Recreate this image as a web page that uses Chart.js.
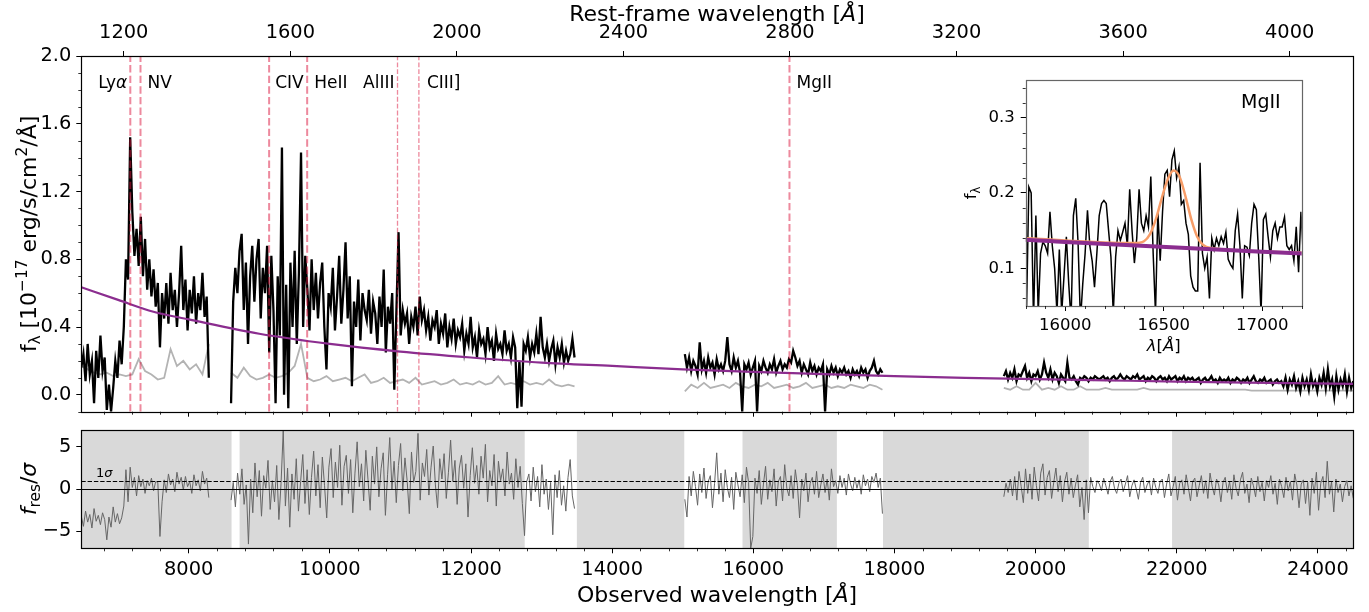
<!DOCTYPE html>
<html lang="en">
<head>
<meta charset="UTF-8">
<title>Spectrum fit</title>
<script src="https://cdn.jsdelivr.net/npm/chart.js"></script>
<style>
  body { margin: 0; background: #fff; }
  #wrap { position: relative; width: 1369px; height: 612px; }
  canvas { position: absolute; }
</style>
</head>
<body>
<div id="wrap">
  <canvas id="mainChart" width="1369" height="432" style="left:0;top:0"></canvas>
  <canvas id="residChart" width="1369" height="207" style="left:0;top:405px"></canvas>
  <canvas id="insetChart" width="370" height="310" style="left:940px;top:55px"></canvas>
</div>
<script>
// ---- data (observed wavelength in Angstrom, flux in 1e-17 erg/s/cm2/A) ----
const onePlusZ = 5.9;
const obsTicks = [8000, 10000, 12000, 14000, 16000, 18000, 20000, 22000, 24000];
const restTicks = [1200, 1600, 2000, 2400, 2800, 3200, 3600, 4000];

const lineNames = ['Lyα', 'NV', 'CIV', 'HeII', 'AlIII', 'CIII]', 'MgII'];
const lineRest = [1215.67, 1240.14, 1549.06, 1640.42, 1857.40, 1908.73, 2798.75];

// wavelength coverage of the four spectral chunks
const segRanges = [[6478, 8285], [8600, 13467], [15030, 17830], [19550, 24502]];

const seg1Flux = [.16,.24,.08,.3,.12,.2,-.05,.26,.1,.35,.14,.22,-.09,.06,-.1,.04,.2,.1,.32,.18,.4,.8,.68,1.52,1.08,.82,.98,.76,1.05,.7,
  .92,.62,.8,.58,.74,.52,.66,.28,.6,.45,.66,.42,.72,.5,.62,.4,.6,.88,.5,.68,.38,.62,.48,.7,.42,.6,.5,.72,.46,.58,.1];
const seg2Flux = [-.05,.55,.75,.6,.85,.95,.5,.78,.3,.7,.88,.55,.8,.92,.45,.75,.6,.88,.25,.82,.5,-.05,.7,.35,1.46,0,.65,-.08,.78,.4,
  .85,.3,.72,1.43,.4,.82,.62,.38,.8,.5,.72,.45,.66,.78,.4,.15,.6,.52,.75,.38,.58,.82,.42,.62,.9,.45,.7,.05,.55,.4,
  .68,.32,.6,.5,.44,.62,.36,.55,.48,.3,.58,.4,.74,.25,.52,.42,.6,.03,.5,.96,.35,.5,.42,.48,.3,.46,.4,.52,.35,.58,
  .44,.5,.38,.46,.32,.44,.4,.5,.3,.42,.36,.48,.28,.4,.33,.45,.3,.38,.34,.42,.26,.36,.3,.46,.28,.34,.22,.38,.3,.33,
  .24,.4,.28,.32,.2,.36,.27,.3,.24,.38,.26,.3,.22,.34,.28,-.08,.2,-.07,.3,.26,.34,.22,.3,.25,.36,.24,.46,.28,.22,.3,
  .2,.27,.32,.18,.28,.22,.3,.19,.26,.2,.24,.33,.22];
const seg3Flux = [.24,.16,.22,.14,.2,.17,.12,.31,.15,.2,.13,.22,.16,.19,.12,.21,.15,.18,.14,.2,.34,.18,.14,.22,.16,.2,.13,-.1,.18,.15,
  .19,.12,.16,.2,-.1,.17,.14,.2,.16,.13,.18,.15,.21,.13,.17,.2,.15,.18,.16,.21,.19,.26,.22,.17,.2,.13,.18,.15,.12,.19,
  .14,.17,.12,.16,.14,.18,-.1,.15,.12,.17,.13,.16,.11,.15,.13,.16,.12,.14,.1,.15,.12,.14,.11,.16,.13,.15,.1,.14,.16,.2,
  .14,.12,.15,.13];
const seg4Flux = [.11,.14,.09,.13,.1,.15,.08,.12,.11,.14,.17,.1,.13,.08,.12,.11,.14,.09,.12,.19,.13,.1,.15,.09,.13,.11,.07,.12,.1,.08,
  .19,.1,.09,.11,.08,.06,.1,.09,.11,.1,.08,.1,.09,.11,.1,.09,.1,.11,.09,.1,.08,.1,.11,.09,.1,.12,.1,.09,.11,.1,
  .09,.11,.1,.12,.09,.1,.11,.08,.1,.09,.11,.1,.08,.1,.11,.09,.1,.08,.11,.09,.1,.11,.08,.1,.09,.11,.08,.1,.09,.1,
  .08,.09,.1,.07,.09,.1,.08,.09,.11,.08,.09,.07,.1,.08,.09,.08,.1,.07,.09,.08,.1,.09,.07,.09,.08,.1,.07,.09,.11,.08,
  .07,.09,.08,.1,.07,.08,.09,.06,.08,.09,.07,.08,.05,.1,.03,.09,.06,.11,.04,.08,.02,.1,.05,.09,.03,.12,.05,.08,.02,.1,
  .06,.13,.04,.15,.05,.09,-.01,.11,.03,.09,.05,.12,.02,.1,.04,.08];

const seg1Err = [.17,.15,.13,.12,.13,.11,.12,.11,.12,.21,.14,.12,.09,.1,.27,.17,.2,.15,.18,.12,.3];
const seg2Err = [.13,.1,.16,.11,.09,.1,.12,.1,.11,.13,.17,.3,.1,.08,.09,.11,.08,.09,.1,.08,.1,.12,.07,.08,.1,.07,.08,.09,.07,.1,
  .06,.07,.08,.06,.07,.09,.06,.07,.06,.08,.06,.07,.11,.06,.07,.06,.08,.06,.07,.06,.09,.06,.05,.06,.05];
const seg3Err = [.02,.06,.04,.07,.04,.05,.06,.04,.07,.05,.04,.06,.05,.07,.04,.05,.06,.04,.05,.07,.04,.05,.06,.04,.05,.04,.06,.05,.04,.06,.05,.03];
const seg4Err = [.04,.03,.05,.03,.03,.07,.03,.04,.03,.05,.03,.03,.05,.03,.03,.03,.04,.03,.03,.03,.03,.03,.04,.03,.03,.03,.03,.03,.03,.03,
  .03,.03,.03,.03,.03,.03,.03,.03,.03,.025,.025,.025,.025,.025,.025,.025,.025,.025,.025,.025,.025,.025,.025,.025,.025,.025];

const contWave = [6478, 7000, 7500, 8000, 9000, 10000, 11000, 12000, 13000, 14000, 15000, 16000, 17000, 18000, 19000, 20000, 21000, 22000, 23000, 24502];
const contFlux = [0.635, 0.56, 0.49, 0.445, 0.36, 0.30, 0.255, 0.22, 0.19, 0.17, 0.15, 0.135, 0.122, 0.11, 0.10, 0.092, 0.085, 0.078, 0.072, 0.064];

// residuals (f_res / sigma)
const seg1Res = [-3.2,-4.4,-2.6,-3.9,-3.0,-4.6,-2.3,-3.8,-3.1,-4.2,-2.8,-3.6,-6.0,-3.3,-4.5,-2.1,-3.9,-2.9,-4.1,-3.4,-2.0,
  2.3,-1.5,2.6,0.2,1.4,-0.8,1.6,0.3,1.2,-0.5,1.0,0.4,1.3,-0.2,0.9,0.8,-5.6,-1.5,1.1,-0.4,1.8,0.5,1.2,-0.3,2.0,0.6,1.4,-0.1,1.5,
  0.3,0.9,-0.5,1.7,0.4,1.1,-0.2,2.1,0.6,1.3,-1.0];
const seg2Res = [-1.3,0.8,-2.1,1.9,-0.6,2.4,-1.8,0.5,-6.5,1.2,-2.8,3.1,-0.9,2.2,-3.2,1.6,0.1,3.4,-2.4,1.0,-1.5,2.8,-3.6,0.7,6.9,
  -2.0,2.5,-4.5,1.8,-1.2,3.6,-2.6,0.9,4.1,-1.7,2.3,-3.0,1.4,4.5,-0.8,2.9,-2.2,3.8,0.4,-3.4,2.6,4.8,-1.0,3.2,0.2,5.2,-1.9,2.7,4.0,
  -0.5,3.5,-2.8,1.9,5.6,0.3,3.0,-1.4,4.6,1.1,-2.5,3.9,0.6,5.0,-0.9,2.4,4.3,-3.1,1.7,6.1,0.0,3.3,-1.6,2.8,5.4,-0.2,3.7,1.0,-2.9,
  4.4,0.8,2.1,6.6,-1.3,3.1,1.5,4.7,-0.7,2.6,5.1,0.5,-2.2,3.6,1.2,4.2,-1.1,2.0,5.8,0.9,3.4,-1.8,2.5,4.0,0.1,3.0,-3.3,1.6,4.9,0.7,
  2.8,-0.6,3.9,1.3,5.3,-1.5,2.2,0.4,4.1,-2.0,3.3,1.0,2.4,-0.8,4.4,0.6,1.9,-1.2,3.6,0.2,2.7,-1.7,-5.5,0.9,1.8,-1.4,2.6,-0.3,1.5,
  -2.1,2.9,-0.6,1.2,-2.4,0.8,-5.4,1.7,-1.0,2.2,-1.9,0.4,-2.6,1.4,3.5,-0.8,-2.3];
const seg3Res = [-1.2,-3.3,1.5,-0.8,2.1,0.3,-1.9,1.8,-0.4,2.5,-1.1,0.9,1.6,-2.2,0.7,4.3,-0.6,1.9,-1.5,2.3,0.2,-1.0,1.4,-2.4,2.0,
  0.5,-0.9,1.7,-1.6,2.6,0.8,-7.0,-5.6,1.3,-0.5,2.2,-1.8,0.6,2.7,-1.2,1.1,-0.3,2.4,-2.0,0.9,1.5,-1.4,2.9,0.1,-0.8,1.6,-1.1,2.3,
  0.4,-3.4,1.2,-0.2,1.9,-1.5,0.7,1.4,-0.6,2.1,-1.0,0.5,1.8,-0.4,1.2,-1.3,2.4,0.3,1.0,-0.5,1.6,0.2,1.3,-0.7,1.8,0.6,-0.2,1.4,0.1,
  1.1,-0.6,1.7,0.4,1.2,-0.3,1.5,0.8,1.9,0.2,1.3,-2.9];
const seg4Res = [-0.9,0.7,-0.4,1.2,-0.8,1.5,-1.3,2.1,0.3,-1.6,2.4,-0.5,1.8,-1.2,2.6,0.4,-1.4,1.9,3.0,-0.7,1.4,2.2,-1.1,0.8,2.5,
  -0.3,1.6,-1.5,0.9,2.0,-0.6,1.3,-1.0,0.5,1.7,-2.1,0.2,-3.6,1.1,-2.8,1.4,0.3,-0.4,1.0,0.6,-0.2,1.3,0.4,-0.6,0.9,1.5,0.1,-0.5,0.7,
  1.2,-0.3,0.6,1.6,-0.9,0.4,1.1,0.0,-1.2,0.8,1.4,-0.4,0.5,1.0,-0.7,1.3,0.2,-0.5,0.9,1.2,-1.0,0.6,1.8,-0.8,0.3,1.5,-1.3,0.7,1.1,
  -0.6,1.7,0.2,-1.4,0.9,1.3,-0.9,0.4,1.6,-0.5,1.0,-1.1,1.9,0.3,-0.7,1.2,0.5,-1.5,0.8,1.4,-0.4,0.9,-1.2,1.7,0.1,-0.8,1.1,2.0,-0.5,
  0.6,-1.6,1.3,0.4,-0.9,1.5,-0.3,0.8,-1.4,1.0,0.2,1.6,-0.6,0.7,-1.8,1.2,0.3,-1.0,1.4,-0.2,0.9,-1.3,1.8,0.5,-2.2,0.6,1.1,-1.7,0.8,
  -3.1,1.3,-0.5,2.0,-2.5,0.7,1.5,-1.0,3.3,-0.6,0.9,-2.7,1.2,-0.4,0.6,-1.5,0.3,1.0,-0.8,0.4,-1.1];

// wavelength windows shaded grey in the residual panel
const shadedSpans = [[6478, 8607], [8721, 12761], [13500, 15022], [15847, 17184], [17838, 20754], [21934, 24502]];

// inset: MgII region
const insetRange = [15804, 17208];
const insetFlux = [.04,.208,.2,.03,.17,.04,.12,.135,.13,.12,.175,.13,.1,.04,.125,.04,.09,.142,.08,.03,
  .17,.193,.133,.03,.08,.12,.177,.13,.11,.075,.12,.17,.186,.19,.186,.15,.115,.04,.115,.15,
  .137,.148,.16,.13,.205,.15,.107,.14,.205,.16,.15,.17,.155,.222,.12,.04,.175,.11,.175,.225,
  .23,.195,.244,.256,.22,.235,.185,.19,.16,.145,.09,.075,.07,.07,.24,.12,.1,.115,.06,.14,
  .125,.14,.13,.142,.133,.148,.112,.105,.1,.15,.172,.13,.06,.13,.128,.117,.16,.185,.178,.115,
  .04,.165,.172,.142,.115,.15,.16,.14,.155,.155,.168,.13,.125,.13,.11,.155,.095,.175,.118];
const gaussWave = [15800, 16350, 16400, 16430, 16460, 16490, 16520, 16550, 16580, 16610, 16640, 16670, 16700, 16740, 17200];
const gaussFlux = [0.14, 0.1335, 0.136, 0.145, 0.165, 0.193, 0.218, 0.230, 0.222, 0.196, 0.165, 0.142, 0.131, 0.127, 0.121];

// ---- helpers ----
const FONT = '"DejaVu Sans", sans-serif';
Chart.defaults.font.family = FONT;
Chart.defaults.color = '#000';

const X_MIN = 6478, X_MAX = 24502;

function toPoints(ranges, segs) {
  const pts = [];
  segs.forEach(function(vals, k) {
    const a = ranges[k][0], b = ranges[k][1];
    vals.forEach(function(v, i) {
      pts.push({x: a + (b - a) * i / (vals.length - 1), y: v});
    });
    pts.push({x: b + 1, y: null});
  });
  return pts;
}

function pairs(xs, ys) {
  return xs.map(function(x, i) { return {x: x, y: ys[i]}; });
}

function fixedTicks(list) {
  return function(scale) { scale.ticks = list.map(function(v) { return {value: v}; }); };
}

function minorList(from, to, step, major) {
  const out = [];
  for (let v = from; v <= to + 1e-9; v += step) {
    const r = v / major;
    if (Math.abs(r - Math.round(r)) > 1e-6) out.push(v);
  }
  return out;
}

const tickGrid = {drawOnChartArea: false, drawTicks: true, tickLength: 5, color: '#000', lineWidth: 1};

function drawFrame(chart, color) {
  const a = chart.chartArea, ctx = chart.ctx;
  ctx.save();
  ctx.strokeStyle = color || '#000';
  ctx.lineWidth = 1.2;
  ctx.strokeRect(Math.round(a.left) + 0.5, Math.round(a.top) + 0.5,
                 Math.round(a.right - a.left), Math.round(a.bottom - a.top));
  ctx.restore();
}

function drawMinor(chart, id, values, len) {
  const s = chart.scales[id], ctx = chart.ctx, a = chart.chartArea;
  ctx.save();
  ctx.strokeStyle = '#000';
  ctx.lineWidth = 0.8;
  values.forEach(function(v) {
    const p = Math.round(s.getPixelForValue(v)) + 0.5;
    ctx.beginPath();
    if (s.axis === 'x') {
      const y0 = s.position === 'top' ? a.top : a.bottom;
      const d = s.position === 'top' ? -len : len;
      ctx.moveTo(p, y0); ctx.lineTo(p, y0 + d);
    } else {
      ctx.moveTo(a.left, p); ctx.lineTo(a.left - len, p);
    }
    ctx.stroke();
  });
  ctx.restore();
}

// parts: [text, kind] kind: '' | 'it' | 'sub' | 'sup'
function richText(ctx, parts, x, y, size, align, rotate) {
  ctx.save();
  ctx.translate(x, y);
  if (rotate) ctx.rotate(-Math.PI / 2);
  const fonts = parts.map(function(p) {
    const small = p[1] === 'sub' || p[1] === 'sup';
    const it = p[1] === 'it' || p[2] === 'it';
    return (it ? 'italic ' : '') + (small ? size * 0.7 : size) + 'px ' + FONT;
  });
  let w = 0;
  parts.forEach(function(p, i) { ctx.font = fonts[i]; w += ctx.measureText(p[0]).width; });
  let cx = align === 'center' ? -w / 2 : (align === 'right' ? -w : 0);
  ctx.textBaseline = 'middle';
  ctx.textAlign = 'left';
  ctx.fillStyle = '#000';
  parts.forEach(function(p, i) {
    ctx.font = fonts[i];
    const dy = p[1] === 'sub' ? size * 0.28 : (p[1] === 'sup' ? -size * 0.32 : 0);
    ctx.fillText(p[0], cx, dy);
    cx += ctx.measureText(p[0]).width;
  });
  ctx.restore();
}

// ---- main panel ----
const lineWidths = [2, 2, 2, 2, 1.3, 1.3, 2];
const labelDx = [-3, 7, 6, 7, -3, 8, 7];
const labelAlign = ['right', 'left', 'left', 'left', 'right', 'left', 'left'];

const mainDatasets = [
  {data: toPoints(segRanges, [seg1Err, seg2Err, seg3Err, seg4Err]), borderColor: '#b3b3b3', borderWidth: 1.8, order: 4},
  {data: toPoints(segRanges, [seg1Flux, seg2Flux, seg3Flux, seg4Flux]), borderColor: '#000', borderWidth: 2.3, order: 3},
  {data: pairs(contWave, contFlux), borderColor: '#8b2d8f', borderWidth: 2.2, cubicInterpolationMode: 'monotone', order: 2}
];
lineRest.forEach(function(r, i) {
  mainDatasets.push({
    data: [{x: r, y: -0.1}, {x: r, y: 2.0}], xAxisID: 'x2',
    borderColor: 'rgba(220,20,60,0.5)', borderWidth: lineWidths[i],
    borderDash: [3.7 * lineWidths[i], 1.6 * lineWidths[i]], order: 1
  });
});

const mainDeco = {
  id: 'mainDeco',
  afterDraw: function(chart) {
    const ctx = chart.ctx;
    drawFrame(chart);
    drawMinor(chart, 'x', minorList(6800, 24400, 400, 2000), 3);
    drawMinor(chart, 'y', minorList(-0.1, 2.0, 0.1, 0.4), 3);
    const x2 = chart.scales.x2;
    lineNames.forEach(function(n, i) {
      const px = x2.getPixelForValue(lineRest[i]) + labelDx[i];
      const parts = n === 'Lyα' ? [['Ly', ''], ['α', 'it']] : [[n, '']];
      richText(ctx, parts, px, 84, 17, labelAlign[i], false);
    });
    richText(ctx, [['f', ''], ['λ', 'sub'], [' [10', ''], ['−17', 'sup'], [' erg/s/cm', ''], ['2', 'sup'], ['/Å]', '']],
             30, 234, 22, 'center', true);
    richText(ctx, [['Rest-frame wavelength [', ''], ['Å', 'it'], [']', '']], 717, 15, 22, 'center', false);
  }
};

new Chart('mainChart', {
  type: 'line',
  data: {datasets: mainDatasets},
  options: {
    responsive: false, animation: false, parsing: false, normalized: true,
    elements: {point: {radius: 0}, line: {tension: 0, fill: false}},
    spanGaps: false,
    layout: {padding: {left: 0, right: 15.7, top: 0, bottom: 0}},
    plugins: {legend: {display: false}, tooltip: {enabled: false}},
    scales: {
      x: {type: 'linear', position: 'bottom', min: X_MIN, max: X_MAX,
          afterBuildTicks: fixedTicks(obsTicks), afterFit: function(s) { s.height = 20.3; },
          ticks: {callback: function() { return ''; }, autoSkip: false, maxRotation: 0},
          grid: tickGrid, border: {display: false}},
      x2: {type: 'linear', position: 'top', min: X_MIN / onePlusZ, max: X_MAX / onePlusZ,
           afterBuildTicks: fixedTicks(restTicks), afterFit: function(s) { s.height = 56; },
           ticks: {font: {size: 19.4}, padding: 6, autoSkip: false, maxRotation: 0,
                   callback: function(v) { return String(v); }},
           grid: tickGrid, border: {display: false}},
      y: {type: 'linear', min: -0.1, max: 2.0,
          afterBuildTicks: fixedTicks([0, 0.4, 0.8, 1.2, 1.6, 2.0]), afterFit: function(s) { s.width = 81.3; },
          ticks: {font: {size: 19.4}, padding: 5, callback: function(v) { return v.toFixed(1); }},
          grid: tickGrid, border: {display: false}}
    }
  },
  plugins: [mainDeco]
});

// ---- residual panel (canvas top = 405) ----
const residDeco = {
  id: 'residDeco',
  beforeDatasetsDraw: function(chart) {
    const ctx = chart.ctx, a = chart.chartArea, x = chart.scales.x;
    ctx.save();
    ctx.fillStyle = '#d9d9d9';
    shadedSpans.forEach(function(s) {
      const l = Math.max(a.left, x.getPixelForValue(s[0]));
      const r = Math.min(a.right, x.getPixelForValue(s[1]));
      ctx.fillRect(l, a.top, r - l, a.bottom - a.top);
    });
    ctx.restore();
  },
  afterDatasetsDraw: function(chart) {
    const ctx = chart.ctx, a = chart.chartArea, y = chart.scales.y;
    ctx.save();
    ctx.strokeStyle = '#000';
    ctx.lineWidth = 1.2;
    const y0 = Math.round(y.getPixelForValue(0)) + 0.5;
    ctx.beginPath(); ctx.moveTo(a.left, y0); ctx.lineTo(a.right, y0); ctx.stroke();
    const y1 = Math.round(y.getPixelForValue(1)) + 0.5;
    ctx.setLineDash([4.4, 1.9]);
    ctx.beginPath(); ctx.moveTo(a.left, y1); ctx.lineTo(a.right, y1); ctx.stroke();
    ctx.restore();
  },
  afterDraw: function(chart) {
    const ctx = chart.ctx;
    drawFrame(chart);
    drawMinor(chart, 'x', minorList(6800, 24400, 400, 2000), 3);
    richText(ctx, [['1', ''], ['σ', 'it']], 96, 69, 13, 'left', false);
    richText(ctx, [['f', 'it'], ['res', 'sub'], ['/', ''], ['σ', 'it']], 30, 84, 22, 'center', true);
    richText(ctx, [['Observed wavelength [', ''], ['Å', 'it'], [']', '']], 717, 191.7, 22, 'center', false);
  }
};

new Chart('residChart', {
  type: 'line',
  data: {datasets: [{data: toPoints(segRanges, [seg1Res, seg2Res, seg3Res, seg4Res]), borderColor: '#666', borderWidth: 1}]},
  options: {
    responsive: false, animation: false, parsing: false,
    elements: {point: {radius: 0}, line: {tension: 0, fill: false}},
    layout: {padding: {left: 0, right: 15.7, top: 25, bottom: 0}},
    plugins: {legend: {display: false}, tooltip: {enabled: false}},
    scales: {
      x: {type: 'linear', min: X_MIN, max: X_MAX,
          afterBuildTicks: fixedTicks(obsTicks), afterFit: function(s) { s.height = 63.7; },
          ticks: {font: {size: 19.4}, padding: 5, autoSkip: false, maxRotation: 0, callback: function(v) { return String(v); }},
          grid: tickGrid, border: {display: false}},
      y: {type: 'linear', min: -7, max: 7,
          afterBuildTicks: fixedTicks([-5, 0, 5]), afterFit: function(s) { s.width = 81.3; },
          ticks: {font: {size: 19.4}, padding: 5, callback: function(v) { return v < 0 ? '−' + Math.abs(v) : String(v); }},
          grid: tickGrid, border: {display: false}}
    }
  },
  plugins: [residDeco]
});

// ---- inset (canvas at 940, 55) ----
const insetDeco = {
  id: 'insetDeco',
  beforeDraw: function(chart) {
    const a = chart.chartArea, ctx = chart.ctx;
    ctx.save();
    ctx.fillStyle = '#fff';
    ctx.fillRect(a.left, a.top, a.right - a.left, a.bottom - a.top);
    ctx.restore();
  },
  afterDraw: function(chart) {
    const ctx = chart.ctx;
    drawFrame(chart, '#666');
    drawMinor(chart, 'x', minorList(15800, 17200, 100, 500), 3);
    drawMinor(chart, 'y', minorList(0.06, 0.34, 0.02, 0.1), 3);
    richText(ctx, [['f', ''], ['λ', 'sub']], 32, 138, 16.5, 'center', true);
    richText(ctx, [['λ', 'it'], ['[', ''], ['Å', 'it'], [']', '']], 223.7, 292, 16.5, 'center', false);
    richText(ctx, [['MgII', '']], 301, 48, 19, 'left', false);
  }
};

new Chart('insetChart', {
  type: 'line',
  data: {datasets: [
    {data: pairs(contWave, contFlux), borderColor: '#8b2d8f', borderWidth: 4, cubicInterpolationMode: 'monotone', order: 0},
    {data: pairs(gaussWave, gaussFlux), borderColor: '#f79d68', borderWidth: 2.5, cubicInterpolationMode: 'monotone', order: 1},
    {data: toPoints([insetRange], [insetFlux]), borderColor: '#000', borderWidth: 1.5, order: 2}
  ]},
  options: {
    responsive: false, animation: false, parsing: false,
    elements: {point: {radius: 0}, line: {tension: 0, fill: false}},
    layout: {padding: {left: 0, right: 8.3, top: 25, bottom: 0}},
    plugins: {legend: {display: false}, tooltip: {enabled: false}},
    scales: {
      x: {type: 'linear', min: 15800, max: 17200,
          afterBuildTicks: fixedTicks([16000, 16500, 17000]), afterFit: function(s) { s.height = 59; },
          ticks: {font: {size: 16.5}, padding: 5, autoSkip: false, maxRotation: 0, callback: function(v) { return String(v); }},
          grid: tickGrid, border: {display: false}},
      y: {type: 'linear', min: 0.05, max: 0.35,
          afterBuildTicks: fixedTicks([0.1, 0.2, 0.3]), afterFit: function(s) { s.width = 85.7; },
          ticks: {font: {size: 16.5}, padding: 6, callback: function(v) { return v.toFixed(1); }},
          grid: tickGrid, border: {display: false}}
    }
  },
  plugins: [insetDeco]
});
</script>
</body>
</html>
